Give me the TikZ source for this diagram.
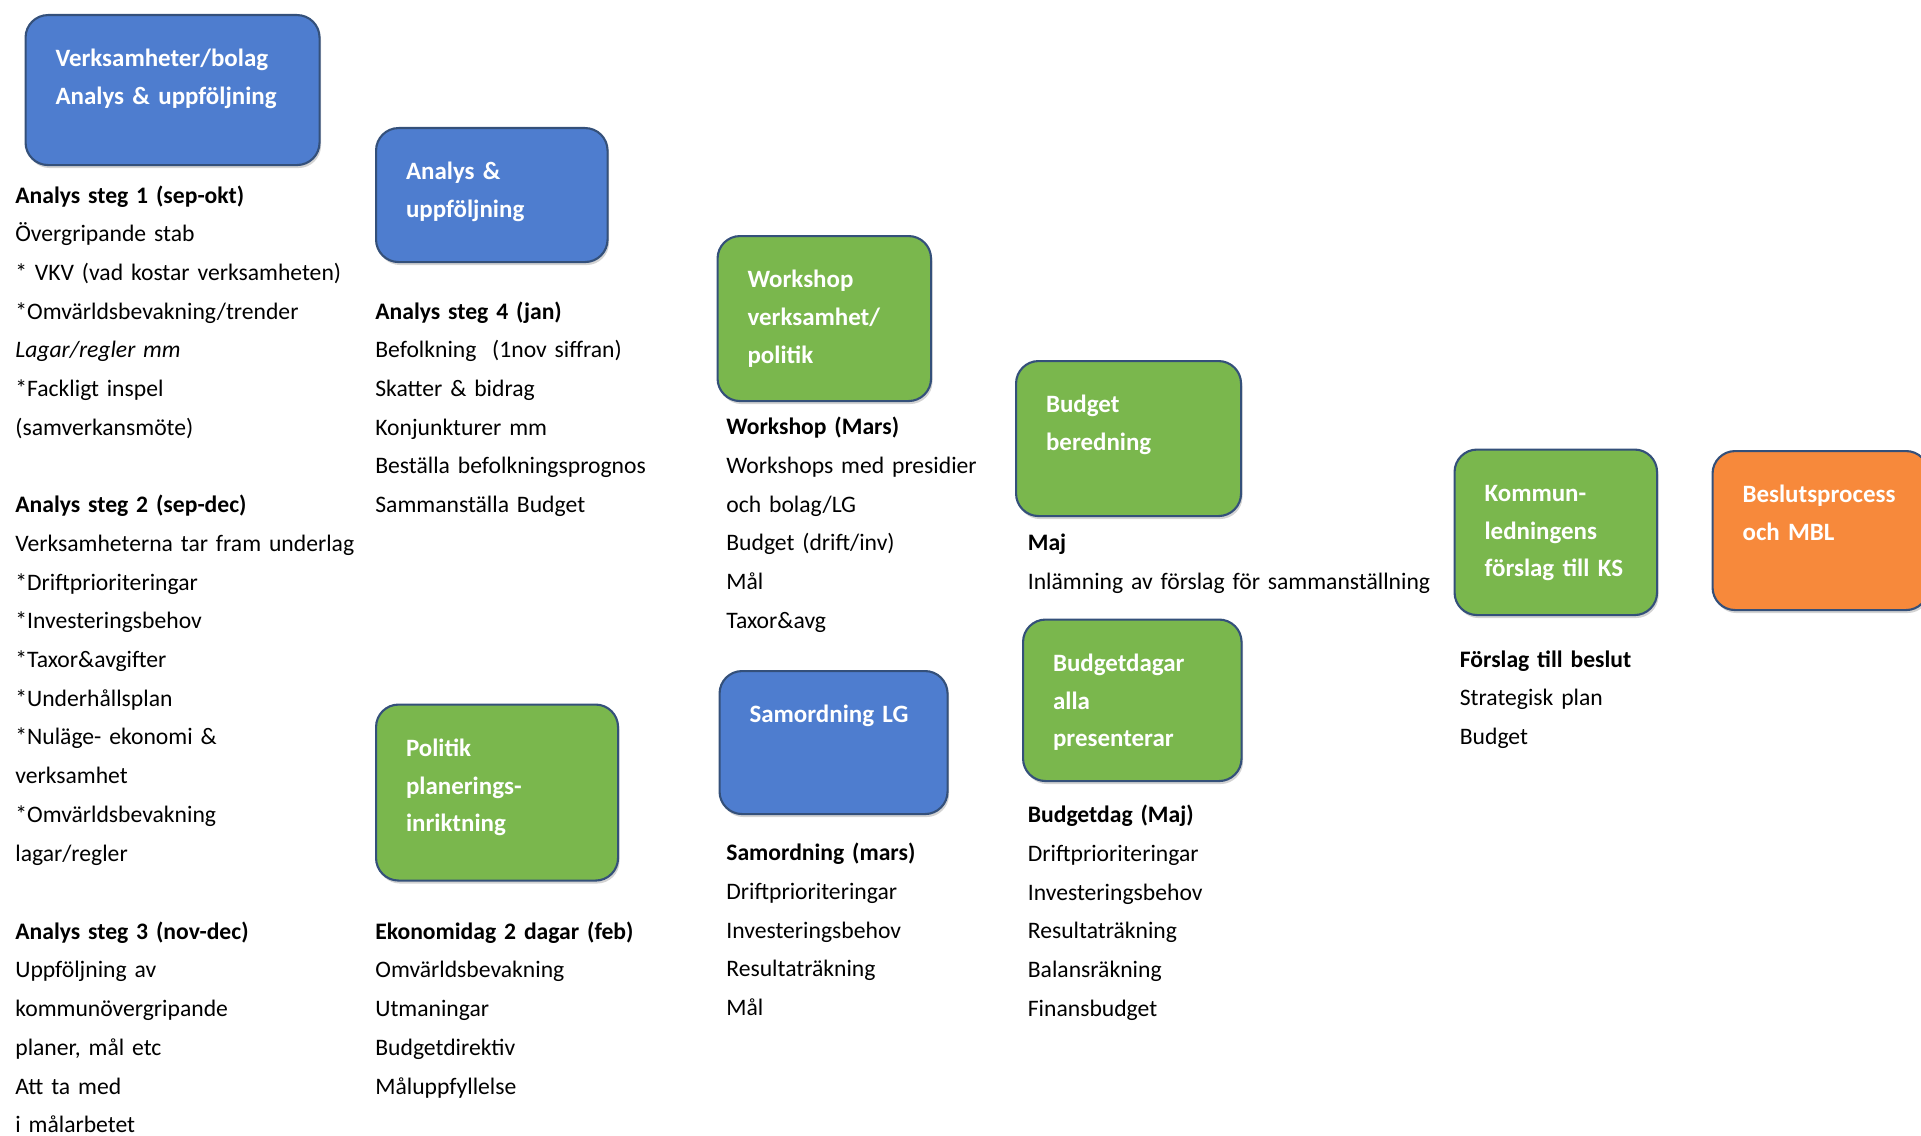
\documentclass[tikz,border=0pt]{standalone}
\usepackage{fontspec}
\setmainfont{Carlito}
\usetikzlibrary{shadows}
\definecolor{blaa}{HTML}{4E7DCF}
\definecolor{groen}{HTML}{7AB74D}
\definecolor{orange}{HTML}{F7893B}
\definecolor{kant}{HTML}{34507A}
\tikzset{
    blok/.style={rectangle, rounded corners=0.45cm, draw=kant, line width=1.2pt,
    	fill=#1, anchor=north west, align=left, inner xsep=0.6cm, inner ysep=0pt,
    	text height=1.03cm, text=white,
    	drop shadow={opacity=0.35, shadow xshift=0.03cm, shadow yshift=-0.06cm},
    	font=\fontsize{14.2}{21.6}\selectfont\bfseries}
}
\tikzset{
    tekst/.style={anchor=base west, align=left, text width=9cm, inner sep=0pt,
    	font=\fontsize{13.45}{22.05}\selectfont}
}

\begin{document}
\begin{tikzpicture}
	\useasboundingbox (0,0) rectangle (38.42,-22.72);

	\node[blok=blaa, text width=4.68cm, text depth=1.97cm] (vb) at (0.49,-0.28) {Verksamheter/bolag\\Analys \& uppföljning};
	\node[blok=blaa, text width=3.43cm, text depth=1.65cm] (au) at (7.50,-2.54) {Analys \&\\uppföljning};
	\node[blok=groen, text width=3.07cm, text depth=2.27cm] (ws) at (14.33,-4.70) {Workshop\\verksamhet/\\politik};
	\node[blok=groen, text width=3.30cm, text depth=2.07cm] (bb) at (20.30,-7.20) {Budget\\beredning};
	\node[blok=groen, text width=3.17cm, text depth=2.20cm] (bd) at (20.44,-12.37) {Budgetdagar\\alla\\presenterar};
	\node[blok=groen, text width=2.85cm, text depth=2.28cm] (kl) at (29.07,-8.97) {Kommun-\\ledningens\\förslag till KS};
	\node[blok=orange, text width=3.12cm, text depth=2.15cm] (bp) at (34.23,-9.00) {Beslutsprocess\\och MBL};
	\node[blok=groen, text width=3.64cm, text depth=2.49cm] (po) at (7.50,-14.07) {Politik\\planerings-\\inriktning};
	\node[blok=blaa, text width=3.36cm, text depth=1.83cm] (sl) at (14.37,-13.40) {Samordning LG};

	\node[tekst] (steg1) at (0.30,-4.06) {\textbf{Analys steg 1 (sep-okt)}\\Övergripande stab\\{}* VKV (vad kostar verksamheten)\\{}*Omvärldsbevakning/trender\\\textit{Lagar/regler mm}\\{}*Fackligt inspel\\{}(samverkansmöte)};
	\node[tekst] (steg2) at (0.30,-10.25) {\textbf{Analys steg 2 (sep-dec)}\\Verksamheterna tar fram underlag\\{}*Driftprioriteringar\\{}*Investeringsbehov\\{}*Taxor\&avgifter\\{}*Underhållsplan\\{}*Nuläge- ekonomi \&\\verksamhet\\{}*Omvärldsbevakning\\lagar/regler};
	\node[tekst] (steg3) at (0.30,-18.78) {\textbf{Analys steg 3 (nov-dec)}\\Uppföljning av\\kommunövergripande\\planer, mål etc\\Att ta med\\i målarbetet};
	\node[tekst] (steg4) at (7.50,-6.38) {\textbf{Analys steg 4 (jan)}\\Befolkning\ \ (1nov siffran)\\Skatter \& bidrag\\Konjunkturer mm\\Beställa befolkningsprognos\\Sammanställa Budget};
	\node[tekst] (ekodag) at (7.50,-18.78) {\textbf{Ekonomidag 2 dagar (feb)}\\Omvärldsbevakning\\Utmaningar\\Budgetdirektiv\\Måluppfyllelse};
	\node[tekst] (wsmars) at (14.52,-8.69) {\textbf{Workshop (Mars)}\\Workshops med presidier\\och bolag/LG\\Budget (drift/inv)\\Mål\\Taxor\&avg};
	\node[tekst] (slmars) at (14.52,-17.21) {\textbf{Samordning (mars)}\\Driftprioriteringar\\Investeringsbehov\\Resultaträkning\\Mål};
	\node[tekst] (maj) at (20.55,-11.01) {\textbf{Maj}\\Inlämning av förslag för sammanställning};
	\node[tekst] (bdmaj) at (20.55,-16.45) {\textbf{Budgetdag (Maj)}\\Driftprioriteringar\\Investeringsbehov\\Resultaträkning\\Balansräkning\\Finansbudget};
	\node[tekst] (beslut) at (29.19,-13.34) {\textbf{Förslag till beslut}\\Strategisk plan\\Budget};
\end{tikzpicture}
\end{document}
